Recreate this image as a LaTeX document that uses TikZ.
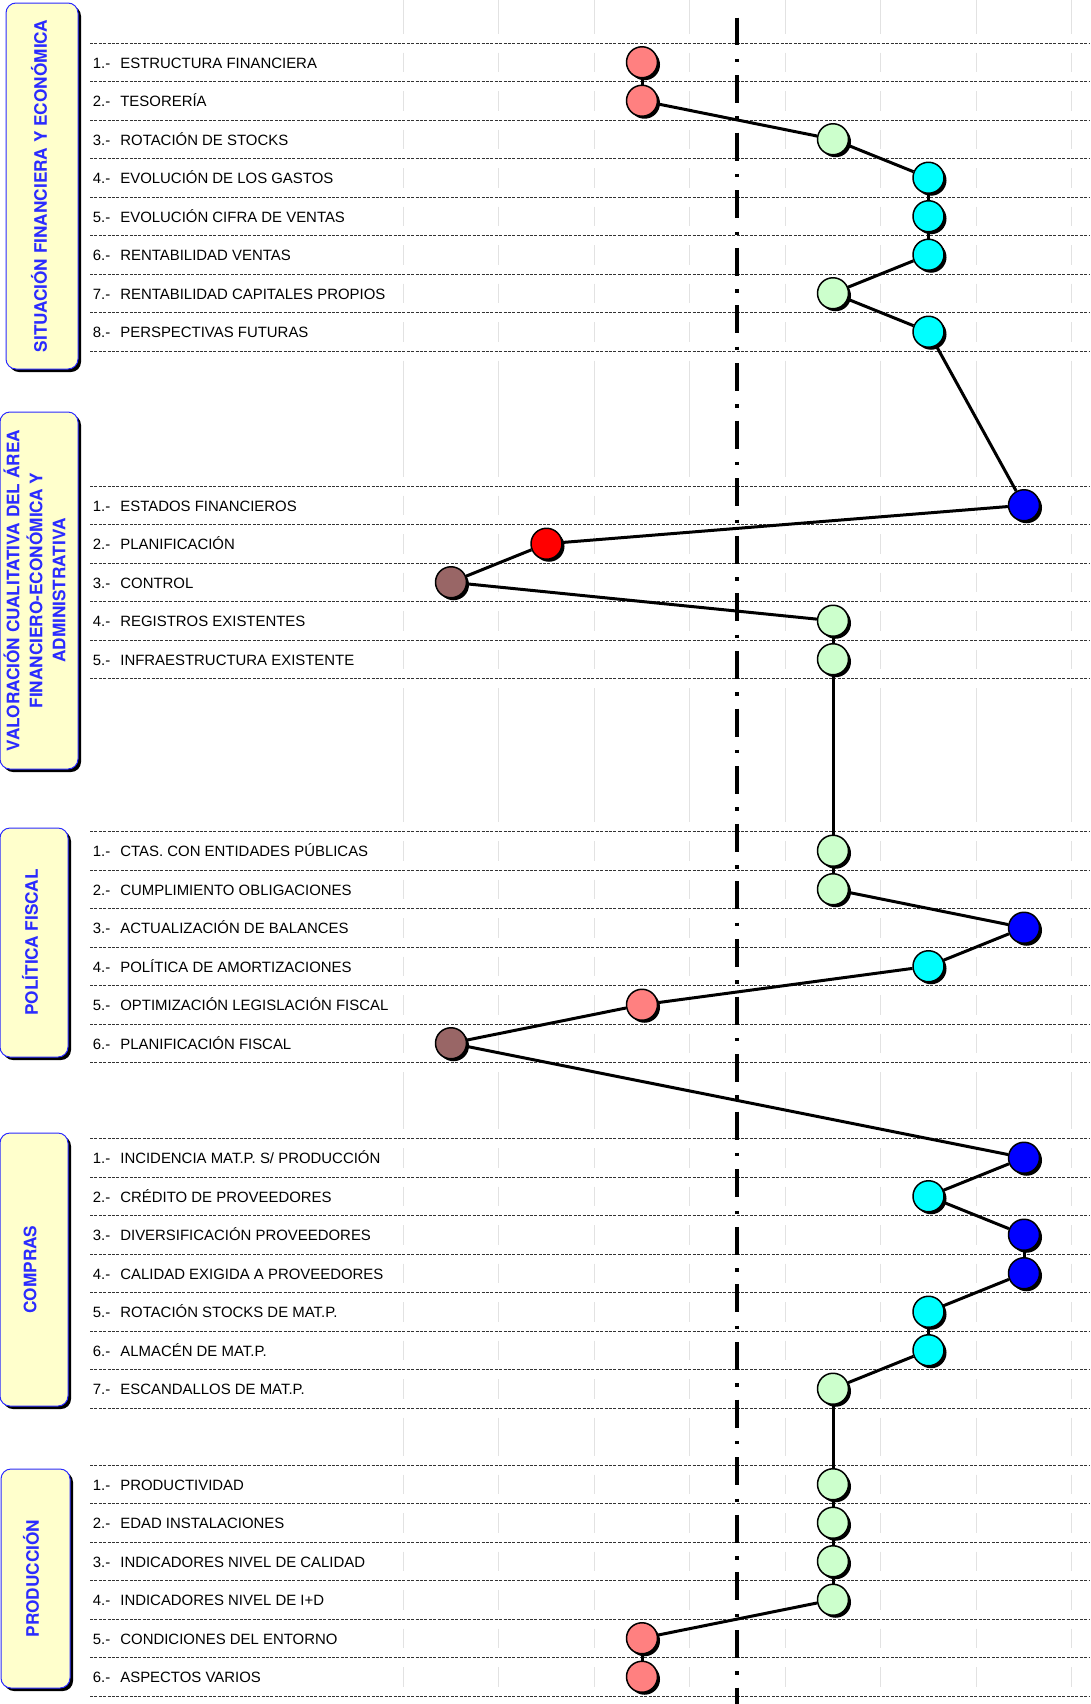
\documentclass[tikz,border=0pt]{standalone}
\usepackage{fontspec}
\setmainfont{Liberation Sans}
\newfontfamily\titlefont{texgyreheros-bold.otf}
\usetikzlibrary{shadows,backgrounds}

% colours of the score circles (1 = worst, 7 = best)
\definecolor{lvl1}{HTML}{996666}
\definecolor{lvl2}{HTML}{FF0000}
\definecolor{lvl3}{HTML}{FF8080}
\definecolor{lvl5}{HTML}{CCFFCC}
\definecolor{lvl6}{HTML}{00FFFF}
\definecolor{lvl7}{HTML}{0000FF}
\definecolor{boxfill}{HTML}{FFFFCC}
\definecolor{titleblue}{HTML}{2B2BFF}
\definecolor{gridgray}{HTML}{E2E2E2}

\tikzset{
    rowline/.style={line width=0.016cm, black!80, dash pattern=on 0.06cm off 0.028cm},
    gridline/.style={line width=0.02cm, gridgray},
    midline/.style={line width=0.08cm, black, dash pattern=on 0.56cm off 0.266cm on 0.07cm off 0.256cm},
    secbox/.style={draw=titleblue, line width=0.02cm, fill=boxfill, rounded corners=0.2cm},
    secshadow/.style={fill=black, rounded corners=0.2cm},
    sectitle/.style={rotate=90, align=center, inner sep=0pt, text=titleblue, font=\titlefont\fontsize{9.8}{13.1}\selectfont},
    itemnum/.style={anchor=base west, inner sep=0pt, font=\fontsize{8.5}{10}\selectfont},
    itemtext/.style={anchor=base west, inner sep=0pt, font=\fontsize{8.5}{10}\selectfont},
    score/.style={circle, draw=black, line width=0.03cm, minimum size=0.62cm, inner sep=0pt,
        drop shadow={shadow xshift=0.05cm, shadow yshift=-0.05cm, fill=black, opacity=1}},
    link/.style={line width=0.06cm, black},
}

\begin{document}
\begin{tikzpicture}[x=0.02cm, y=-0.02cm]
    \useasboundingbox (0,0) rectangle (1090,1704);

    \begin{scope}[on background layer]
        \fill[white] (0,0) rectangle (1090,1704);

        % light vertical grid between the sections
        \foreach \a/\b in {-10/43, 351/486, 678.5/831.5, 1062.5/1138.5, 1408/1465}{
            \foreach \g in {0,...,7}{
                \draw[gridline] ({403.25+95.5*\g},{\a+9.5}) -- ({403.25+95.5*\g},{\b-9.5});
            }
        }

        % rows of every section: grid pieces and dashed separators
        \foreach \top/\n in {43/8, 486/5, 831.5/6, 1138.5/7, 1465/6}{
            \foreach \k in {1,...,\n}{
                \foreach \g in {0,...,7}{
                    \draw[gridline] ({403.25+95.5*\g},{\top+38.5*(\k-1)+9.5}) -- ({403.25+95.5*\g},{\top+38.5*\k-9.5});
                }
            }
            \foreach \k in {0,...,\n}{
                \draw[rowline] (90,{\top+38.5*\k}) -- (1090,{\top+38.5*\k});
            }
        }

        % middle reference line
        \draw[midline] (737,17.5) -- (737,1704);
    \end{scope}

    % section boxes with their shadow
    \fill[secshadow] (9,6) rectangle (81,372);
    \draw[secbox] (6,3) rectangle (78,369);
    \node[sectitle] (fin) at (39,186) {SITUACIÓN FINANCIERA Y ECONÓMICA};

    \fill[secshadow] (3,415) rectangle (81,772);
    \draw[secbox] (0,412) rectangle (78,769);
    \node[sectitle] (val) at (34.5,590.5) {VALORACIÓN CUALITATIVA DEL ÁREA\\FINANCIERO-ECONÓMICA Y\\ADMINISTRATIVA};

    \fill[secshadow] (3,831) rectangle (71,1060);
    \draw[secbox] (0,828) rectangle (68,1057);
    \node[sectitle] (fis) at (30,942.5) {POLÍTICA FISCAL};

    \fill[secshadow] (3,1136) rectangle (71,1409);
    \draw[secbox] (0,1133) rectangle (68,1406);
    \node[sectitle] (com) at (30,1269.5) {COMPRAS};

    \fill[secshadow] (4,1472) rectangle (73,1691);
    \draw[secbox] (1,1469) rectangle (70,1688);
    \node[sectitle] (pro) at (31,1578.5) {PRODUCCIÓN};

    % situacion financiera y economica
    \foreach \lbl/\lvl [count=\i] in {ESTRUCTURA FINANCIERA/3, TESORERÍA/3, ROTACIÓN DE STOCKS/5,
        EVOLUCIÓN DE LOS GASTOS/6, EVOLUCIÓN CIFRA DE VENTAS/6, RENTABILIDAD VENTAS/6,
        RENTABILIDAD CAPITALES PROPIOS/5, PERSPECTIVAS FUTURAS/6}{
        \node[itemnum] (fin-n\i) at (92.5,{43+38.5*(\i-0.5)+5.8}) {\i.-};
        \node[itemtext] (fin-t\i) at (120,{43+38.5*(\i-0.5)+5.8}) {\lbl};
        \node[score, fill=lvl\lvl] (fin\i) at ({451+95.5*(\lvl-1)},{43+38.5*(\i-0.5)}) {};
    }

    % valoracion cualitativa
    \foreach \lbl/\lvl [count=\i] in {ESTADOS FINANCIEROS/7, PLANIFICACIÓN/2, CONTROL/1,
        REGISTROS EXISTENTES/5, INFRAESTRUCTURA EXISTENTE/5}{
        \node[itemnum] (val-n\i) at (92.5,{486+38.5*(\i-0.5)+5.8}) {\i.-};
        \node[itemtext] (val-t\i) at (120,{486+38.5*(\i-0.5)+5.8}) {\lbl};
        \node[score, fill=lvl\lvl] (val\i) at ({451+95.5*(\lvl-1)},{486+38.5*(\i-0.5)}) {};
    }

    % politica fiscal
    \foreach \lbl/\lvl [count=\i] in {CTAS. CON ENTIDADES PÚBLICAS/5, CUMPLIMIENTO OBLIGACIONES/5,
        ACTUALIZACIÓN DE BALANCES/7, POLÍTICA DE AMORTIZACIONES/6,
        OPTIMIZACIÓN LEGISLACIÓN FISCAL/3, PLANIFICACIÓN FISCAL/1}{
        \node[itemnum] (fis-n\i) at (92.5,{831.5+38.5*(\i-0.5)+5.8}) {\i.-};
        \node[itemtext] (fis-t\i) at (120,{831.5+38.5*(\i-0.5)+5.8}) {\lbl};
        \node[score, fill=lvl\lvl] (fis\i) at ({451+95.5*(\lvl-1)},{831.5+38.5*(\i-0.5)}) {};
    }

    % compras
    \foreach \lbl/\lvl [count=\i] in {{INCIDENCIA MAT.P. S/ PRODUCCIÓN}/7, CRÉDITO DE PROVEEDORES/6,
        DIVERSIFICACIÓN PROVEEDORES/7, CALIDAD EXIGIDA A PROVEEDORES/7,
        ROTACIÓN STOCKS DE MAT.P./6, ALMACÉN DE MAT.P./6, ESCANDALLOS DE MAT.P./5}{
        \node[itemnum] (com-n\i) at (92.5,{1138.5+38.5*(\i-0.5)+5.8}) {\i.-};
        \node[itemtext] (com-t\i) at (120,{1138.5+38.5*(\i-0.5)+5.8}) {\lbl};
        \node[score, fill=lvl\lvl] (com\i) at ({451+95.5*(\lvl-1)},{1138.5+38.5*(\i-0.5)}) {};
    }

    % produccion
    \foreach \lbl/\lvl [count=\i] in {PRODUCTIVIDAD/5, EDAD INSTALACIONES/5,
        INDICADORES NIVEL DE CALIDAD/5, INDICADORES NIVEL DE I+D/5,
        CONDICIONES DEL ENTORNO/3, ASPECTOS VARIOS/3}{
        \node[itemnum] (pro-n\i) at (92.5,{1465+38.5*(\i-0.5)+5.8}) {\i.-};
        \node[itemtext] (pro-t\i) at (120,{1465+38.5*(\i-0.5)+5.8}) {\lbl};
        \node[score, fill=lvl\lvl] (pro\i) at ({451+95.5*(\lvl-1)},{1465+38.5*(\i-0.5)}) {};
    }

    % profile line joining the scores
    \begin{scope}[on background layer]
        \foreach \i [remember=\i as \j (initially 1)] in {2,...,8}{\draw[link] (fin\j) -- (fin\i);}
        \draw[link] (fin8) -- (val1);
        \foreach \i [remember=\i as \j (initially 1)] in {2,...,5}{\draw[link] (val\j) -- (val\i);}
        \draw[link] (val5) -- (fis1);
        \foreach \i [remember=\i as \j (initially 1)] in {2,...,6}{\draw[link] (fis\j) -- (fis\i);}
        \draw[link] (fis6) -- (com1);
        \foreach \i [remember=\i as \j (initially 1)] in {2,...,7}{\draw[link] (com\j) -- (com\i);}
        \draw[link] (com7) -- (pro1);
        \foreach \i [remember=\i as \j (initially 1)] in {2,...,6}{\draw[link] (pro\j) -- (pro\i);}
    \end{scope}
\end{tikzpicture}
\end{document}
